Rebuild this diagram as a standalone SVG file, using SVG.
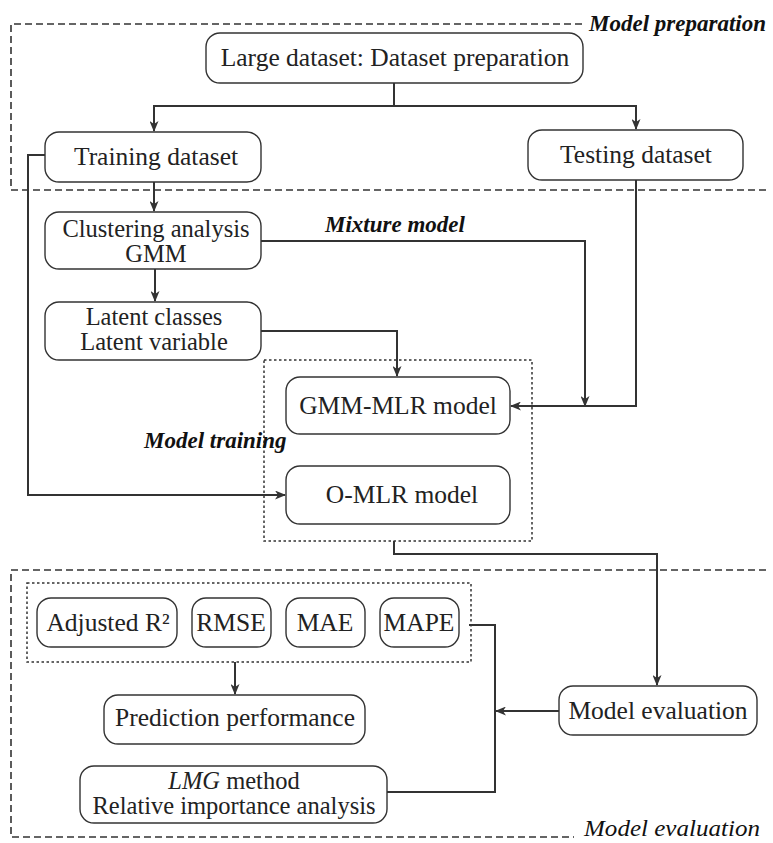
<svg xmlns="http://www.w3.org/2000/svg" width="773" height="843" viewBox="0 0 773 843">
<defs>
<style>
.box{fill:#fff;stroke:#333;stroke-width:1.4}
.t{font-family:"Liberation Serif","Times New Roman",serif;font-size:25.5px;fill:#222;text-anchor:middle}
.t2{font-size:24.5px}
.lbl{font-family:"Liberation Serif","Times New Roman",serif;font-size:23px;font-style:italic;font-weight:bold;fill:#111}
.lbl2{font-family:"Liberation Serif","Times New Roman",serif;font-size:23px;font-style:italic;font-weight:normal;fill:#111}
.region{fill:none;stroke:#333;stroke-width:1.6;stroke-dasharray:7,4}
.dot{fill:none;stroke:#333;stroke-width:1.5;stroke-dasharray:2.5,2.5}
.c{fill:none;stroke:#333;stroke-width:2}
.a{marker-end:url(#arr)}
</style>
<marker id="arr" viewBox="0 0 11 9" refX="10" refY="4.5" markerWidth="11" markerHeight="9" markerUnits="userSpaceOnUse" orient="auto">
<path d="M0,0 L11,4.5 L0,9 L3,4.5 Z" fill="#333"/>
</marker>
</defs>
<rect width="773" height="843" fill="#fff"/>

<g id="regions">
<path class="region" d="M582 24 H11 V190 M11 190 H766"/>
<path class="region" d="M766 570 H11 V837 H574"/>
<rect class="dot" x="264" y="360" width="268" height="181"/>
<rect class="dot" x="27" y="583" width="444" height="79"/>
<text class="lbl" x="589" y="31">Model preparation</text>
<text class="lbl" x="325" y="232">Mixture model</text>
<text class="lbl" x="144" y="448">Model training</text>
<text class="lbl2" x="584" y="836" textLength="176" lengthAdjust="spacingAndGlyphs">Model evaluation</text>
</g>

<g id="connectors">
<path class="c" d="M394 83 V106"/>
<path class="c a" d="M394 106 H154 V131"/>
<path class="c a" d="M394 106 H636 V129"/>
<path class="c a" d="M154 182 V211"/>
<path class="c a" d="M45 155 H28 V495 H285"/>
<path class="c a" d="M155 269 V301"/>
<path class="c a" d="M261 241 H585 V406"/>
<path class="c a" d="M636 180 V406 H511"/>
<path class="c a" d="M261 331 H397 V376"/>
<path class="c a" d="M394 541 V554 H657 V685"/>
<path class="c a" d="M235 662 V694"/>
<path class="c a" d="M559 711 H496"/>
<path class="c" d="M469 625 H495 V792 H387"/>
</g>

<g id="large">
<rect class="box" x="206" y="33" width="377" height="50" rx="14"/>
<text class="t" x="395" y="66">Large dataset: Dataset preparation</text>
</g>
<g id="training">
<rect class="box" x="45" y="132" width="216" height="50" rx="14"/>
<text class="t" x="156" y="165">Training dataset</text>
</g>
<g id="testing">
<rect class="box" x="528" y="130" width="215" height="50" rx="14"/>
<text class="t" x="636" y="163">Testing dataset</text>
</g>
<g id="clustering">
<rect class="box" x="45" y="212" width="216" height="57" rx="14"/>
<text class="t t2" x="156" y="237">Clustering analysis</text>
<text class="t t2" x="156" y="262">GMM</text>
</g>
<g id="latent">
<rect class="box" x="45" y="302" width="216" height="58" rx="14"/>
<text class="t t2" x="154" y="325">Latent classes</text>
<text class="t t2" x="154" y="350">Latent variable</text>
</g>
<g id="gmmmlr">
<rect class="box" x="286" y="377" width="224" height="57" rx="14"/>
<text class="t" x="398" y="414">GMM-MLR model</text>
</g>
<g id="omlr">
<rect class="box" x="286" y="466" width="224" height="58" rx="14"/>
<text class="t" x="402" y="503">O-MLR model</text>
</g>
<g id="adjr2">
<rect class="box" x="37" y="598" width="140" height="49" rx="14"/>
<text class="t" x="108" y="631">Adjusted R²</text>
</g>
<g id="rmse">
<rect class="box" x="192" y="598" width="79" height="49" rx="14"/>
<text class="t" x="231" y="631">RMSE</text>
</g>
<g id="mae">
<rect class="box" x="286" y="598" width="79" height="49" rx="14"/>
<text class="t" x="325" y="631">MAE</text>
</g>
<g id="mape">
<rect class="box" x="380" y="598" width="79" height="49" rx="14"/>
<text class="t" x="419" y="631">MAPE</text>
</g>
<g id="prediction">
<rect class="box" x="104" y="695" width="261" height="49" rx="14"/>
<text class="t" x="235" y="726">Prediction performance</text>
</g>
<g id="lmg">
<rect class="box" x="80" y="766" width="307" height="57" rx="14"/>
<text class="t t2" x="234" y="789"><tspan font-style="italic">LMG</tspan> method</text>
<text class="t t2" x="234" y="814">Relative importance analysis</text>
</g>
<g id="modeleval">
<rect class="box" x="559" y="686" width="198" height="49" rx="14"/>
<text class="t" x="658" y="719">Model evaluation</text>
</g>
</svg>
